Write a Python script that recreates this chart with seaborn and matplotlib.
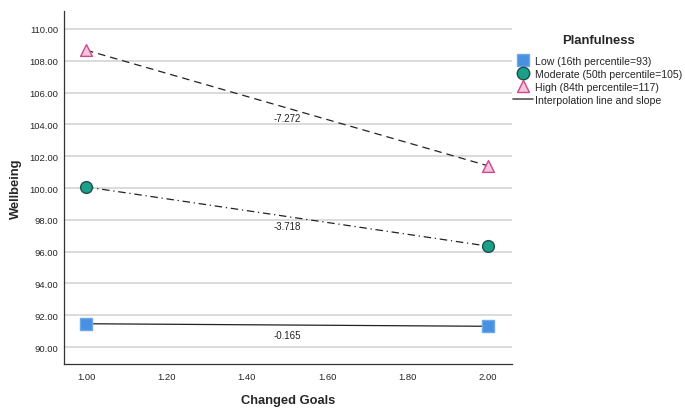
import matplotlib
matplotlib.use("Agg")
import matplotlib.pyplot as plt
from matplotlib.lines import Line2D
import pandas as pd
import seaborn as sns

# ── Data ─────────────────────────────────────────────────────────────────────
GOALS    = [1.0, 2.0]
LOW      = [91.47, 91.31]
MODERATE = [100.07, 96.35]
HIGH     = [108.67, 101.40]
SLOPES   = {"Low": "-0.165", "Moderate": "-3.718", "High": "-7.272"}
LABELS   = {
    "Low": "Low (16th percentile=93)",
    "Moderate": "Moderate (50th percentile=105)",
    "High": "High (84th percentile=117)",
}
YTICKS = [90, 92, 94, 96, 98, 100, 102, 104, 106, 108, 110]
XTICKS = [1.0, 1.2, 1.4, 1.6, 1.8, 2.0]
GROUPS = ["Low", "Moderate", "High"]

# ── Styles ───────────────────────────────────────────────────────────────────
MARKERS = {"Low": "s", "Moderate": "o", "High": "^"}
FACE    = {"Low": "#4a90e2", "Moderate": "#1aa08a", "High": "#f3c6dc"}
EDGE    = {"Low": "#6fa8e8", "Moderate": "#1f4f47", "High": "#d0488c"}
DASHES  = {"Low": "", "Moderate": (6, 3, 1, 3), "High": (6, 4)}

df = pd.DataFrame({
    "goals": GOALS * 3,
    "wellbeing": LOW + MODERATE + HIGH,
    "group": ["Low"] * 2 + ["Moderate"] * 2 + ["High"] * 2,
})

sns.set_style("white")
plt.rcParams["font.family"] = ["Liberation Sans", "DejaVu Sans"]

fig = plt.figure(figsize=(6.85, 4.14), dpi=100)
ax = fig.add_axes([0.0934, 0.118, 0.654, 0.853])

sns.lineplot(data=df, x="goals", y="wellbeing", hue="group", style="group",
             palette={g: "#222222" for g in GROUPS}, dashes=DASHES,
             linewidth=0.9, legend=False, ax=ax, zorder=2)

for g in GROUPS:
    sub = df[df["group"] == g]
    sns.scatterplot(data=sub, x="goals", y="wellbeing", marker=MARKERS[g],
                    s=72, color=FACE[g], edgecolor=EDGE[g], linewidth=1.0,
                    legend=False, ax=ax, zorder=3)
    mid = sub["wellbeing"].mean()
    ax.text(1.5, mid - 0.6, SLOPES[g], ha="center", va="center",
            fontsize=7, color="#222222")

ax.set_xlim(0.945, 2.06)
ax.set_ylim(88.93, 111.13)
ax.set_yticks(YTICKS)
ax.set_yticklabels([f"{v:.2f}" for v in YTICKS], fontsize=6.8)
ax.set_xticks(XTICKS)
ax.set_xticklabels([f"{v:.2f}" for v in XTICKS], fontsize=6.8)
ax.tick_params(axis="y", length=0, pad=4)
ax.tick_params(axis="x", length=0, pad=6)
ax.yaxis.grid(True, color="#d4d4d4", linewidth=1.2)
ax.xaxis.grid(False)
ax.set_axisbelow(True)
ax.spines[["top", "right"]].set_visible(False)
ax.spines[["left", "bottom"]].set_color("#333333")
ax.spines[["left", "bottom"]].set_linewidth(0.9)
ax.set_xlabel("Changed Goals", fontsize=9.3, fontweight="bold", labelpad=9)
ax.set_ylabel("Wellbeing", fontsize=9.3, fontweight="bold", labelpad=5)

handles = [
    Line2D([], [], linestyle="none", marker=MARKERS[g], markersize=9,
           markerfacecolor=FACE[g], markeredgecolor=EDGE[g]) for g in GROUPS
]
handles.append(Line2D([], [], color="#555555", linewidth=1.2))
labels = [LABELS[g] for g in GROUPS] + ["Interpolation line and slope"]
fig.text(0.873, 0.901, "Planfulness", ha="center", va="center",
         fontsize=9.4, fontweight="bold")
fig.legend(handles, labels, loc="upper left", bbox_to_anchor=(0.749, 0.862),
           frameon=False, fontsize=7.6, handlelength=1.9, handletextpad=0.2,
           labelspacing=0.28, borderpad=0, borderaxespad=0)

fig.savefig("out.png", dpi=100)
